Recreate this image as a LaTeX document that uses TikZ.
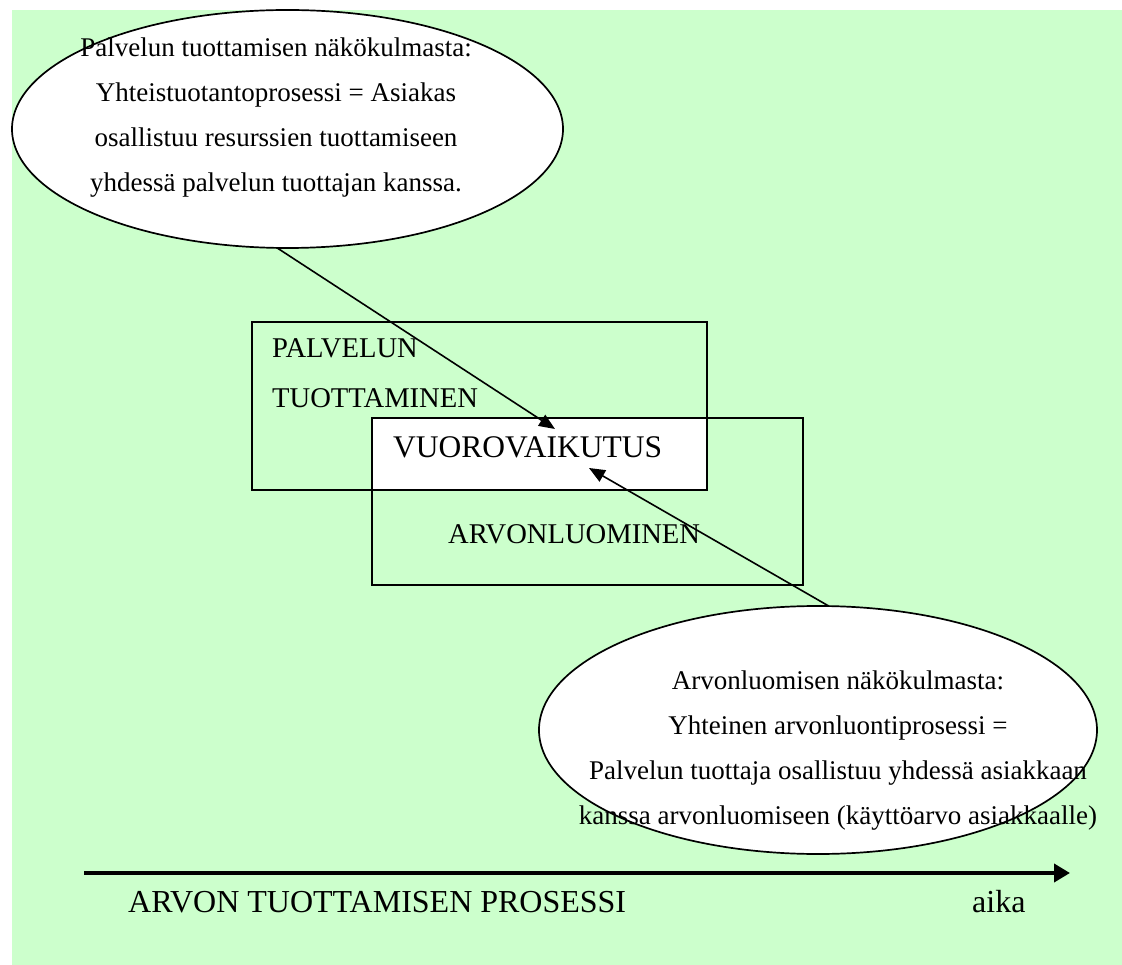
\documentclass[tikz,border=0pt]{standalone}
\usepackage{fontspec}
\setmainfont{Liberation Serif}
\usetikzlibrary{shapes.geometric,arrows.meta}
\pgfdeclarelayer{bg}
\pgfsetlayers{bg,main}
\definecolor{paleGreen}{RGB}{204,255,204}

\begin{document}
\begin{tikzpicture}[x=1pt,y=-1pt,
  bubble/.style={ellipse,draw,fill=white,line width=1.7pt,inner sep=0pt,outer sep=0pt},
  bubbletext/.style={align=center,inner sep=0pt,font=\rmfamily\fontsize{27}{45}\selectfont},
  frame/.style={draw,rectangle,line width=1.7pt,inner sep=0pt,outer sep=0pt},
  caption/.style={anchor=base west,inner sep=0pt,font=\rmfamily\fontsize{28.6}{34}\selectfont},
  axislabel/.style={anchor=base west,inner sep=0pt,font=\rmfamily\fontsize{32}{38}\selectfont},
  link/.style={line width=1.6pt,-{Triangle[length=16pt,width=13pt]}},
  timeline/.style={line width=3.8pt,-{Triangle[length=16pt,width=18pt]}}]

\useasboundingbox (0,0) rectangle (1122,965);

% the two overlapping areas
\node[frame, minimum width=455pt, minimum height=168pt] (box1) at (479.5,406) {};
\node[frame, minimum width=431pt, minimum height=167pt] (box2) at (587.5,501.5) {};

% page tint and the white shared area
\begin{pgfonlayer}{bg}
  \fill[paleGreen] (12,10) rectangle (1122,965);
  \fill[white] (box2.north west) rectangle (box1.south east);
\end{pgfonlayer}

% the two viewpoints
\node[bubble, minimum width=551pt, minimum height=238pt] (topview) at (287.5,129) {};
\node[bubble, minimum width=558pt, minimum height=248pt] (bottomview) at (818,730) {};

\node[bubbletext] (toptext) at (276,118)
  {Palvelun tuottamisen näkökulmasta:\\Yhteistuotantoprosessi = Asiakas\\osallistuu resurssien tuottamiseen\\yhdessä palvelun tuottajan kanssa.};
\node[bubbletext] (bottomtext) at (838,751)
  {Arvonluomisen näkökulmasta:\\Yhteinen arvonluontiprosessi =\\Palvelun tuottaja osallistuu yhdessä asiakkaan\\kanssa arvonluomiseen (käyttöarvo asiakkaalle)};

% area captions
\node[caption] (lblA1) at (272,358) {PALVELUN};
\node[caption] (lblA2) at (272,408) {TUOTTAMINEN};
\node[caption, font=\rmfamily\fontsize{31.5}{36}\selectfont] (lblMid) at (393,457) {VUOROVAIKUTUS};
\node[caption] (lblB) at (448,543) {ARVONLUOMINEN};

% arrows into the interaction area
\coordinate (tipA) at (555,429);
\coordinate (tipB) at (589,468);
\draw[link] (topview.265) -- (tipA);
\draw[link] (bottomview.85) -- (tipB);

% time axis
\coordinate (tstart) at (84,873);
\coordinate (tend) at (1070,873);
\draw[timeline] (tstart) -- (tend);
\node[axislabel] (process) at (128,912) {ARVON TUOTTAMISEN PROSESSI};
\node[axislabel] (time) at (972,912) {aika};

\end{tikzpicture}
\end{document}
